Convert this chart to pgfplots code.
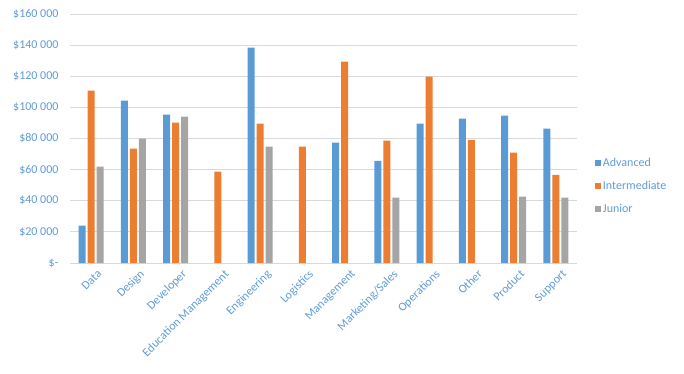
\documentclass[border=0pt]{standalone}
\usepackage{fontspec}
\setmainfont{Carlito}
\usepackage{pgfplots}
\pgfplotsset{compat=1.18}
\definecolor{cAdv}{RGB}{91,155,213}
\definecolor{cInt}{RGB}{237,125,49}
\definecolor{cJun}{RGB}{165,165,165}
\definecolor{cTxt}{RGB}{95,155,215}
\definecolor{cGrid}{RGB}{217,217,217}
\begin{document}
\begin{tikzpicture}[x=1pt,y=1pt]
\begin{axis}[
  name=ax,
  scale only axis,
  width=507pt, height=249pt,
  ybar=2pt, bar width=7pt,
  xmin=-0.5, xmax=11.5,
  ymin=0, ymax=160000,
  scaled y ticks=false,
  xtick={0,...,11},
  xticklabels={Data,Design,Developer,Education Management,Engineering,Logistics,Management,Marketing/Sales,Operations,Other,Product,Support},
  xticklabel style={rotate=45, anchor=north east, font=\fontsize{12}{14}\selectfont, text=cTxt, inner sep=1pt, yshift=-7pt, xshift=1pt},
  ytick={0,20000,...,160000},
  yticklabels={\$-,\$20 000,\$40 000,\$60 000,\$80 000,\$100 000,\$120 000,\$140 000,\$160 000},
  yticklabel style={font=\fontsize{12}{14}\selectfont, text=cTxt, xshift=-8pt},
  major tick length=0pt,
  ymajorgrids, grid style={cGrid, line width=0.8pt},
  axis x line*=bottom,
  axis y line*=left,
  x axis line style={draw=cGrid, line width=0.8pt, -},
  y axis line style={draw=none},
  legend style={draw=none, fill=none, at={(1.035,0.31)}, anchor=west, font=\fontsize{12}{14}\selectfont, text=cTxt, row sep=9pt, inner sep=0pt},
  legend cell align=left,
  legend image code/.code={\fill[#1] (0pt,-3pt) rectangle (6pt,3pt);},
]
\addplot[fill=cAdv, draw=none] coordinates {(0,24000) (1,104300) (2,95300) (4,138400) (6,77300) (7,65700) (8,89500) (9,92700) (10,94700) (11,86300)};
\addplot[fill=cInt, draw=none] coordinates {(0,110700) (1,73500) (2,90200) (3,58700) (4,89500) (5,74800) (6,129400) (7,78600) (8,119700) (9,79200) (10,70900) (11,56700)};
\addplot[fill=cJun, draw=none] coordinates {(0,61900) (1,79900) (2,94000) (4,74800) (7,42000) (10,42600) (11,42000)};
\legend{Advanced,Intermediate,Junior}
\end{axis}
\path[use as bounding box] (ax.south west) ++(-70pt,-110pt) rectangle ++(684pt,373pt);
\end{tikzpicture}
\end{document}
